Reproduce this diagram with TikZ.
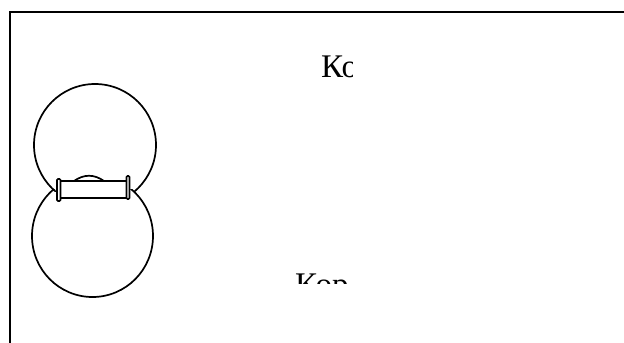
\documentclass[tikz,border=0pt]{standalone}
\usepackage{fontspec}
\setmainfont{Liberation Serif}
\tikzset{
  outline/.style={draw=black, line width=1.7bp},
  label/.style={inner sep=0pt, font=\fontsize{33bp}{36bp}\selectfont, anchor=base west}
}
\begin{document}
\begin{tikzpicture}[x=1bp, y=-1bp]
\useasboundingbox (0,0) rectangle (624,342);
% frame
\draw[line width=1.8bp] (10,350) -- (10,12) -- (630,12);
% circles, each hidden beyond the bar
\begin{scope}
\clip (0,0) rectangle (200,191);
\draw[outline] (95,145) circle [radius=61];
\end{scope}
\begin{scope}
\clip (0,189) rectangle (200,342);
\draw[outline] (92.5,236) ellipse [x radius=60.5, y radius=61];
\end{scope}
% top arc on bar
\draw[outline, fill=white] (74,181) .. controls (84,174) and (94,174) .. (104,181);
% bar
\draw[outline, fill=white] (60,181) rectangle (128,198);
\draw[outline, fill=white, rounded corners=1bp] (57,179) rectangle (60.5,201);
\draw[outline, fill=white, rounded corners=1bp] (126.5,176) rectangle (129.5,199);
% texts, clipped
\begin{scope}
\clip (0,0) rectangle (352,342);
\node[label] (top) at (321,77) {Ко};
\end{scope}
\begin{scope}
\clip (0,0) rectangle (352,283);
\node[label] (bottom) at (295,295) {Кор};
\end{scope}
\end{tikzpicture}
\end{document}
